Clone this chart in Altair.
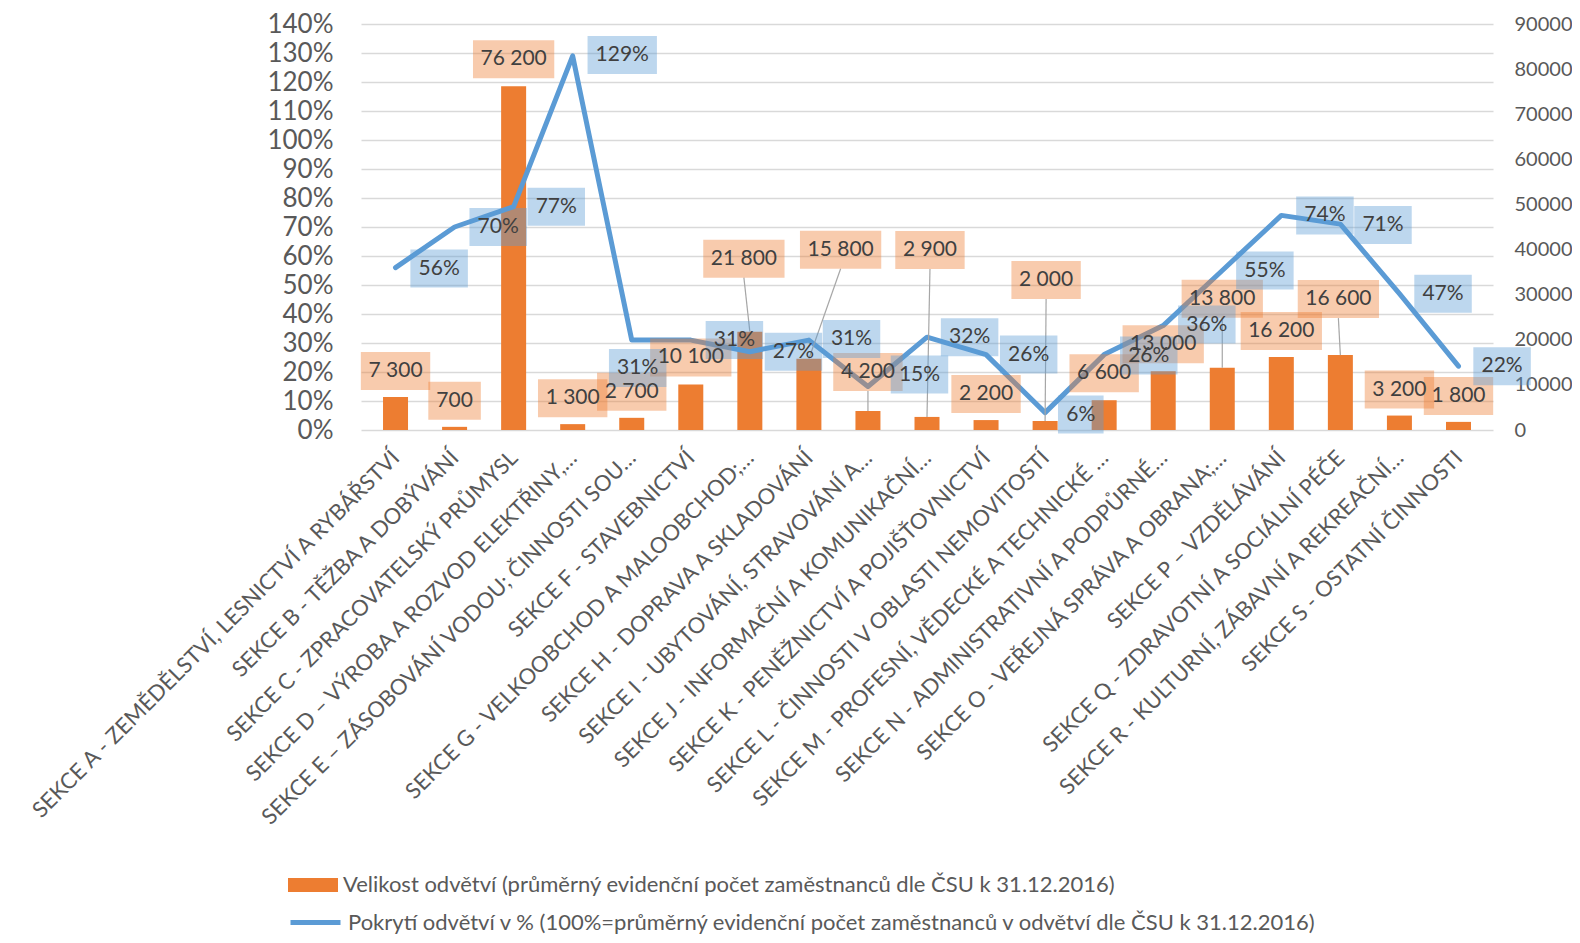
import json
import altair as alt
import pandas as pd

# ---------------- data ----------------
names = [
    "SEKCE A - ZEMĚDĚLSTVÍ, LESNICTVÍ A RYBÁŘSTVÍ",
    "SEKCE B - TĚŽBA A DOBÝVÁNÍ",
    "SEKCE C - ZPRACOVATELSKÝ PRŮMYSL",
    "SEKCE D – VÝROBA A ROZVOD ELEKTŘINY,…",
    "SEKCE E – ZÁSOBOVÁNÍ VODOU; ČINNOSTI SOU…",
    "SEKCE F - STAVEBNICTVÍ",
    "SEKCE G - VELKOOBCHOD A MALOOBCHOD;…",
    "SEKCE H - DOPRAVA A SKLADOVÁNÍ",
    "SEKCE I - UBYTOVÁNÍ, STRAVOVÁNÍ A…",
    "SEKCE J - INFORMAČNÍ A KOMUNIKAČNÍ…",
    "SEKCE K - PENĚŽNICTVÍ A POJIŠŤOVNICTVÍ",
    "SEKCE L - ČINNOSTI V OBLASTI NEMOVITOSTÍ",
    "SEKCE M - PROFESNÍ, VĚDECKÉ A TECHNICKÉ …",
    "SEKCE N - ADMINISTRATIVNÍ A PODPŮRNÉ…",
    "SEKCE O - VEŘEJNÁ SPRÁVA A OBRANA;…",
    "SEKCE P – VZDĚLÁVÁNÍ",
    "SEKCE Q - ZDRAVOTNÍ A SOCIÁLNÍ PÉČE",
    "SEKCE R - KULTURNÍ, ZÁBAVNÍ A REKREAČNÍ…",
    "SEKCE S - OSTATNÍ ČINNOSTI",
]
employees = [7300, 700, 76200, 1300, 2700, 10100, 21800, 15800, 4200, 2900,
             2200, 2000, 6600, 13000, 13800, 16200, 16600, 3200, 1800]
coverage = [56, 70, 77, 129, 31, 31, 27, 31, 15, 32, 26, 6, 26, 36, 55, 74, 71, 47, 22]

bar_series = "Velikost odvětví (průměrný evidenční počet zaměstnanců dle ČSU k 31.12.2016)"
line_series = "Pokrytí odvětví v % (100%=průměrný evidenční počet zaměstnanců v odvětví dle ČSU k 31.12.2016)"

# label placement offsets (pixels, relative to the data point, as in the original)
bar_lab_dx = [0, 0, 0, 0, 0, 0, -6, 32, 0, 3, 0, 1, 0, 0, 0, 0, -2, 0, 0]
bar_lab_dy = [-26, -26, -27, -26, -26, -27, -73, -109, -39, -167, -26, -141, -27, -27, -69, -26, -56, -26, -26]
line_lab_dx = [44, 44, 43, 50, 6, 44, 44, 43, 52, 43, 43, 36, 45, 44, 43, 44, 43, 44, 44]
line_lab_dy = [1, 0, 0, -1, 28, 0, 0, -1, -12, 0, 0, 2, 1, -1, 0, 0, 1, 0, 0]

# ---------------- geometry helpers ----------------
W, H = 1132, 406
N = len(names)
CNT_MAX, PCT_MAX = 90000, 140
PX_X = W / N
PX_CNT = H / CNT_MAX
PX_PCT = H / PCT_MAX
BOX_H = 38


def box_w(s):
    d = sum(c.isdigit() for c in s)
    sp = s.count(" ")
    pc = s.count("%")
    return 12 * d + 5 * sp + 17 * pc + 17


rows = []
for i in range(N):
    emp, pct = employees[i], coverage[i]
    blab = f"{emp:,}".replace(",", " ")
    llab = f"{pct}%"
    bx = i + bar_lab_dx[i] / PX_X
    bc = emp - bar_lab_dy[i] / PX_CNT
    bhw = box_w(blab) / 2 / PX_X
    bhh = BOX_H / 2 / PX_CNT
    lx = i + line_lab_dx[i] / PX_X
    lc = pct - line_lab_dy[i] / PX_PCT
    lhw = box_w(llab) / 2 / PX_X
    lhh = BOX_H / 2 / PX_PCT
    rows.append(dict(
        idx=i, name=names[i], emp=emp, pct=pct,
        bar_series=bar_series, line_series=line_series,
        blab=blab, bx=bx, bc=bc, bx1=bx - bhw, bx2=bx + bhw, by1=bc - bhh, by2=bc + bhh,
        leader=bar_lab_dy[i] < -30,
        llab=llab, lx=lx, lc=lc, lx1=lx - lhw, lx2=lx + lhw, ly1=lc - lhh, ly2=lc + lhh,
    ))
df = pd.DataFrame(rows)

# ---------------- encodings ----------------
GRID = "#D9D9D9"
TXT = "#595959"
LAB = "#404040"
ORANGE = "#ED7D31"
BLUE = "#5B9BD5"
FONT = "Lato"

xscale = alt.Scale(domain=[-0.5, N - 0.5], nice=False, zero=False)
xaxis = alt.Axis(
    title=None, values=list(range(N)),
    labelExpr=json.dumps(names, ensure_ascii=False) + "[datum.value]",
    labelAngle=-45, labelAlign="right", labelBaseline="middle",
    labelFont=FONT, labelFontSize=22, labelColor=TXT, labelPadding=24,
    labelLimit=900, labelOverlap=False, labelFlush=False,
    ticks=False, domain=False, grid=False,
)


def X(field):
    return alt.X(f"{field}:Q", scale=xscale, axis=xaxis)


cnt_scale = alt.Scale(domain=[0, CNT_MAX], nice=False, zero=True)
pct_scale = alt.Scale(domain=[0, PCT_MAX], nice=False, zero=True)

base = alt.Chart(df)

bars = base.mark_bar(size=25, orient="vertical").encode(
    x=X("idx"),
    y=alt.Y("emp:Q", scale=cnt_scale, axis=alt.Axis(
        orient="right", title=None, values=list(range(0, CNT_MAX + 1, 10000)),
        format="d", labelFont=FONT, labelFontSize=20, labelColor=TXT,
        labelPadding=21, ticks=False, domain=False, grid=False)),
    fill=alt.Fill("bar_series:N", scale=alt.Scale(range=[ORANGE]), legend=alt.Legend(
        orient="none", legendX=-73, legendY=836, title=None,
        symbolType="M-1,-0.28H1V0.28H-1Z", symbolSize=2500, symbolStrokeWidth=0,
        labelFont=FONT, labelFontSize=22, labelColor=TXT, labelOffset=5,
        labelLimit=1200, padding=0)),
)

line = base.mark_line(strokeWidth=5, strokeCap="round", strokeJoin="round").encode(
    x=X("idx"),
    y=alt.Y("pct:Q", scale=pct_scale, axis=alt.Axis(
        orient="left", title=None, values=list(range(0, PCT_MAX + 1, 10)),
        labelExpr="datum.value + '%'", labelFont=FONT, labelFontSize=26,
        labelColor=TXT, labelPadding=28, ticks=False, domain=False,
        grid=True, gridColor=GRID, gridWidth=1.5)),
    stroke=alt.Stroke("line_series:N", scale=alt.Scale(range=[BLUE]), legend=alt.Legend(
        orient="none", legendX=-73, legendY=871, title=None,
        symbolType="stroke", symbolSize=2500, symbolStrokeWidth=5,
        labelFont=FONT, labelFontSize=22, labelColor=TXT, labelOffset=5,
        labelLimit=1200, padding=0)),
)

leaders = base.transform_filter("datum.leader").mark_rule(color="#A6A6A6", strokeWidth=1.2).encode(
    x=X("bx"), x2="idx:Q",
    y=alt.Y("by1:Q", scale=cnt_scale, axis=None), y2="emp:Q",
)

bar_boxes = base.mark_rect(color=ORANGE, opacity=0.4).encode(
    x=X("bx1"), x2="bx2:Q",
    y=alt.Y("by1:Q", scale=cnt_scale, axis=None), y2="by2:Q",
)

line_boxes = base.mark_rect(color=BLUE, opacity=0.4).encode(
    x=X("lx1"), x2="lx2:Q",
    y=alt.Y("ly1:Q", scale=pct_scale, axis=None), y2="ly2:Q",
)

bar_text = base.mark_text(font=FONT, fontSize=21, color=LAB, baseline="middle", align="center").encode(
    x=X("bx"),
    y=alt.Y("bc:Q", scale=cnt_scale, axis=None),
    text="blab:N",
)

line_text = base.mark_text(font=FONT, fontSize=21, color=LAB, baseline="middle", align="center").encode(
    x=X("lx"),
    y=alt.Y("lc:Q", scale=pct_scale, axis=None),
    text="llab:N",
)

chart = alt.layer(
    bars, line, leaders, bar_boxes, line_boxes, bar_text, line_text
).resolve_scale(
    y="independent"
).properties(
    width=W, height=H,
    autosize=alt.AutoSizeParams(type="none"),
    padding={"left": 353, "top": 16, "right": 79, "bottom": 505},
).configure(
    font=FONT,
).configure_view(
    stroke=None,
)

chart.save("out.html", embed_options={"renderer": "svg", "actions": False})
